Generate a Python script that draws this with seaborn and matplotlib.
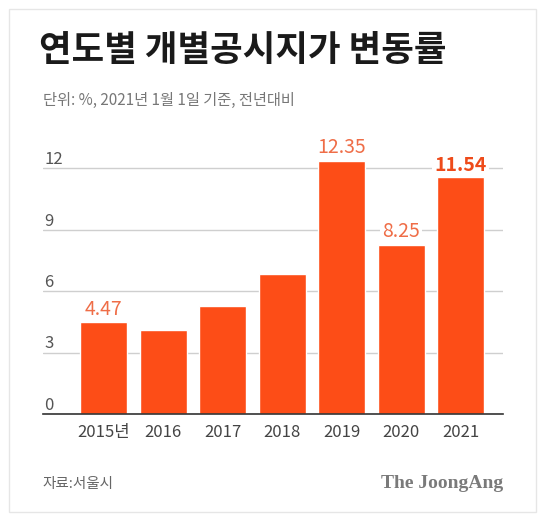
import matplotlib
matplotlib.use('Agg')
import matplotlib.pyplot as plt
from matplotlib.patches import Rectangle
import numpy as np
import pandas as pd
import seaborn as sns

# data
years = ['2015년', '2016', '2017', '2018', '2019', '2020', '2021']
change = [4.47, 4.1, 5.27, 6.83, 12.35, 8.25, 11.54]
shown = [True, False, False, False, True, True, True]
yticks = [0, 3, 6, 9, 12]

title = '연도별 개별공시지가 변동률'
subtitle = '단위: %, 2021년 1월 1일 기준, 전년대비'
source = '자료:서울시'
brand = 'The JoongAng'

BAR = '#FD4D17'
LABEL = '#EF6D47'
LABEL_HI = '#EE4B1A'

sns.set_theme(style='white')
plt.rcParams['font.family'] = ['Noto Sans CJK KR', 'DejaVu Sans']

df = pd.DataFrame({'year': years, 'change': change})

W, H = 542, 518
fig = plt.figure(figsize=(W / 100, H / 100), dpi=100)
fig.patch.set_facecolor('white')
ax = fig.add_axes([43 / W, 1 - 414 / H, (503 - 43) / W, (414 - 147.5) / H])

sns.barplot(data=df, x='year', y='change', color=BAR, saturation=1,
            width=0.79, ax=ax, zorder=2)

ax.set_ylim(0, 13)
ax.set_xlim(-1.02, 6.71)
ax.set_yticks(yticks)
ax.set_yticklabels([str(t) for t in yticks])
ax.yaxis.grid(True, color='#cfcfcf', linewidth=1)
ax.set_axisbelow(True)
ax.tick_params(axis='y', length=0, pad=-1, labelsize=12, labelcolor='#555555')
for lab in ax.get_yticklabels():
    lab.set_ha('left')
    lab.set_va('bottom')
ax.tick_params(axis='x', length=0, pad=7, labelsize=12, labelcolor='#444444')
ax.set_xlabel('')
ax.set_ylabel('')
for s in ['top', 'right', 'left']:
    ax.spines[s].set_visible(False)
ax.spines['bottom'].set_color('#333333')
ax.spines['bottom'].set_linewidth(1.2)

for i, (v, on) in enumerate(zip(change, shown)):
    if not on:
        continue
    last = i == len(change) - 1
    ax.annotate(f'{v:.2f}', (i, v), xytext=(0, 2), textcoords='offset points',
                ha='center', va='bottom', fontsize=14,
                color=LABEL_HI if last else LABEL,
                fontweight='bold' if last else 'light',
                bbox=dict(fc='white', ec='none', pad=1.5), zorder=3)

fig.text(39 / W, 1 - 51 / H, title, fontsize=25.5, fontweight='heavy',
         color='#1a1a1a', va='center', ha='left')
fig.text(43 / W, 1 - 100 / H, subtitle, fontsize=11, color='#777777',
         va='center', ha='left')
fig.text(42 / W, 1 - 484 / H, source, fontsize=10.5, color='#666666',
         va='center', ha='left')
fig.text(503 / W, 1 - 484 / H, brand, fontsize=14, fontweight='bold',
         family='Liberation Serif', color='#7a7a7a', va='center', ha='right')

fig.patches.append(Rectangle((9 / W, 1 - 512 / H), (536 - 9) / W, (512 - 9) / H,
                             transform=fig.transFigure, fill=False,
                             edgecolor='#e6e6e6', linewidth=1))

fig.savefig('out.png', dpi=100, facecolor='white')
